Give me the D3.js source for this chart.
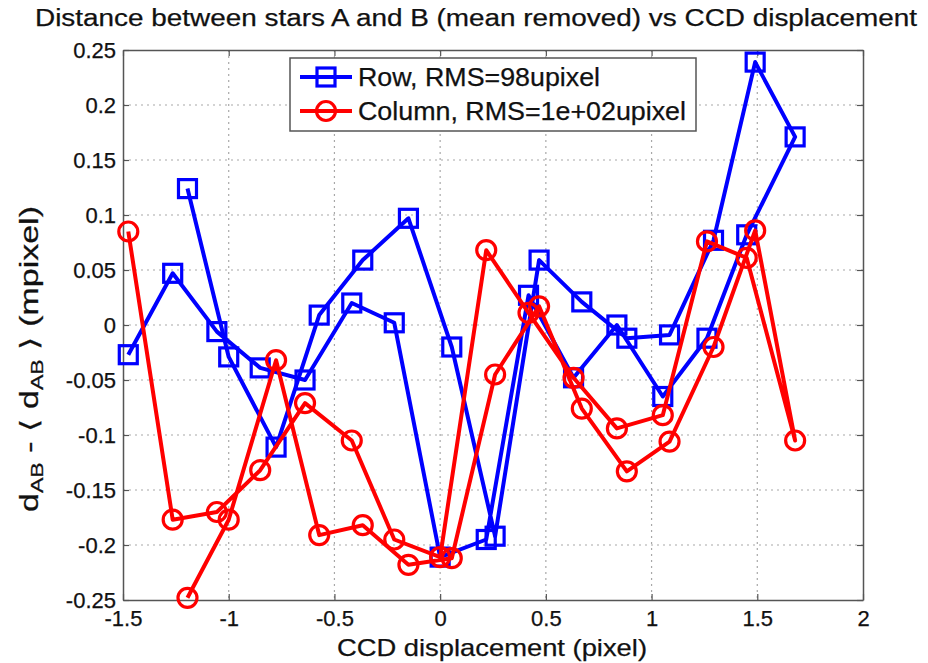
<!DOCTYPE html>
<html lang="en">
<head>
    <meta charset="UTF-8">
    <title>Distance between stars A and B vs CCD displacement</title>
    <script src="https://d3js.org/d3.v7.min.js"></script>
    <style>
        body { margin: 0; background: #fff; }
        text { font-family: "Liberation Sans", Arial, sans-serif; fill: #111; stroke: #111; stroke-width: 0.25px; }
    </style>
</head>
<body>
    <div id="chart"></div>

    <script>
        // CCD displacement (pixel), in the order the scan was drawn (out and back)
        const displacement = [-1.475, -1.265, -1.056, -0.851, -0.639, -0.418, -0.217, 0, 0.218, 0.418,
            0.631, 0.836, 1.053, 1.262, 1.45, 1.679, 1.49, 1.293, 1.085, 0.883,
            0.67, 0.468, 0.26, 0.055, -0.15, -0.366, -0.572, -0.776, -1.0, -1.195];

        // d_AB - <d_AB> (mpixel)
        const rowValues = [-0.027, 0.047, -0.006, -0.039, -0.05, 0.02, 0.002, -0.211, -0.195, 0.027,
            -0.048, 0.0, -0.065, -0.012, 0.082, 0.171, 0.239, 0.077, -0.009, -0.012,
            0.021, 0.059, -0.192, -0.02, 0.097, 0.059, 0.009, -0.111, -0.029, 0.124];

        const columnValues = [0.085, -0.177, -0.17, -0.132, -0.071, -0.105, -0.195, -0.211, 0.068, 0.011,
            -0.048, -0.094, -0.082, 0.076, 0.061, -0.105, 0.086, -0.02, -0.106, -0.133,
            -0.076, 0.017, -0.045, -0.212, -0.218, -0.182, -0.191, -0.032, -0.177, -0.248];

        const seriesNames = ["Row, RMS=98upixel", "Column, RMS=1e+02upixel"];
        const xTicks = [-1.5, -1, -0.5, 0, 0.5, 1, 1.5, 2];
        const yTicks = [0.25, 0.2, 0.15, 0.1, 0.05, 0, -0.05, -0.1, -0.15, -0.2, -0.25];

        const svgWidth = 928;
        const svgHeight = 663;
        const margin = { top: 50, right: 65, bottom: 63, left: 123 };
        const width = svgWidth - margin.left - margin.right;
        const height = svgHeight - margin.top - margin.bottom;

        const root = d3.select("#chart")
            .append("svg")
            .attr("width", svgWidth)
            .attr("height", svgHeight);

        const svg = root.append("g")
            .attr("transform", `translate(${margin.left},${margin.top})`);

        const x = d3.scaleLinear().domain([-1.5, 2]).range([0, width]);
        const y = d3.scaleLinear().domain([-0.25, 0.25]).range([height, 0]);
        const fmt = d => String(d);

        // dotted grid
        svg.append("g")
            .selectAll("line")
            .data(xTicks.slice(1, -1))
            .enter().append("line")
            .attr("x1", d => x(d)).attr("x2", d => x(d))
            .attr("y1", 0).attr("y2", height)
            .attr("stroke", "#a8a8a8")
            .attr("stroke-width", 1.2)
            .attr("stroke-dasharray", "2,4");

        svg.append("g")
            .selectAll("line")
            .data(yTicks.slice(1, -1))
            .enter().append("line")
            .attr("x1", 0).attr("x2", width)
            .attr("y1", d => y(d)).attr("y2", d => y(d))
            .attr("stroke", "#a8a8a8")
            .attr("stroke-width", 1.2)
            .attr("stroke-dasharray", "2,4");

        // axes with inward ticks on all four sides
        function styleAxis(g) {
            g.select(".domain").attr("stroke", "#555").attr("stroke-width", 1.5);
            g.selectAll(".tick line").attr("stroke", "#555").attr("stroke-width", 1.2);
            g.selectAll("text").style("font-size", "22px").attr("fill", "#111");
        }

        svg.append("g")
            .attr("transform", `translate(0,${height})`)
            .call(d3.axisBottom(x).tickValues(xTicks).tickFormat(fmt).tickSizeInner(-6).tickSizeOuter(0).tickPadding(10))
            .call(styleAxis)
            .call(g => g.selectAll("text").attr("dy", "0.72em"));

        svg.append("g")
            .call(d3.axisTop(x).tickValues(xTicks).tickFormat("").tickSizeInner(-6).tickSizeOuter(0))
            .call(styleAxis);

        svg.append("g")
            .call(d3.axisLeft(y).tickValues(yTicks).tickFormat(fmt).tickSizeInner(-6).tickSizeOuter(0).tickPadding(7))
            .call(styleAxis);

        svg.append("g")
            .attr("transform", `translate(${width},0)`)
            .call(d3.axisRight(y).tickValues(yTicks).tickFormat("").tickSizeInner(-6).tickSizeOuter(0))
            .call(styleAxis);

        // series
        const series = [
            { name: seriesNames[0], values: rowValues, color: "#0000ff", marker: "square", textLen: 242 },
            { name: seriesNames[1], values: columnValues, color: "#ff0000", marker: "circle", textLen: 328 }
        ];

        const line = d3.line()
            .x(d => x(d[0]))
            .y(d => y(d[1]));

        function drawMarker(g, type, color) {
            if (type === "square") {
                g.append("rect")
                    .attr("x", -9).attr("y", -9)
                    .attr("width", 18).attr("height", 18)
                    .attr("fill", "none")
                    .attr("stroke", color)
                    .attr("stroke-width", 3.2);
            } else {
                g.append("circle")
                    .attr("r", 9.5)
                    .attr("fill", "none")
                    .attr("stroke", color)
                    .attr("stroke-width", 3.2);
            }
        }

        series.forEach(s => {
            const pts = displacement.map((d, i) => [d, s.values[i]]);
            svg.append("path")
                .datum(pts)
                .attr("d", line)
                .attr("fill", "none")
                .attr("stroke", s.color)
                .attr("stroke-width", 4)
                .attr("stroke-linejoin", "round");

            svg.append("g")
                .selectAll("g")
                .data(pts)
                .enter().append("g")
                .attr("transform", d => `translate(${x(d[0])},${y(d[1])})`)
                .each(function () { drawMarker(d3.select(this), s.marker, s.color); });
        });

        // legend
        const legend = root.append("g").attr("transform", "translate(290,58)");
        legend.append("rect")
            .attr("width", 406).attr("height", 73)
            .attr("fill", "#fff")
            .attr("stroke", "#555")
            .attr("stroke-width", 1.5);

        series.forEach((s, i) => {
            const row = legend.append("g").attr("transform", `translate(0,${19 + i * 34})`);
            row.append("line")
                .attr("x1", 10).attr("x2", 62)
                .attr("stroke", s.color)
                .attr("stroke-width", 4);
            const m = row.append("g").attr("transform", "translate(36,0)");
            drawMarker(m, s.marker, s.color);
            row.append("text")
                .attr("x", 68)
                .attr("dy", "0.36em")
                .attr("textLength", s.textLen)
                .attr("lengthAdjust", "spacingAndGlyphs")
                .style("font-size", "25px")
                .text(s.name);
        });

        // title
        root.append("text")
            .attr("x", 476)
            .attr("y", 26)
            .attr("text-anchor", "middle")
            .attr("textLength", 882)
            .attr("lengthAdjust", "spacingAndGlyphs")
            .style("font-size", "23px")
            .text("Distance between stars A and B (mean removed) vs CCD displacement");

        // x label
        root.append("text")
            .attr("x", 492)
            .attr("y", 656)
            .attr("text-anchor", "middle")
            .attr("textLength", 310)
            .attr("lengthAdjust", "spacingAndGlyphs")
            .style("font-size", "24px")
            .text("CCD displacement (pixel)");

        // y label
        const yl = root.append("text")
            .attr("transform", "translate(38,359) rotate(-90)")
            .attr("text-anchor", "middle")
            .attr("textLength", 306)
            .attr("lengthAdjust", "spacingAndGlyphs")
            .style("font-size", "25px");
        yl.append("tspan").text("d");
        yl.append("tspan").attr("baseline-shift", "-30%").style("font-size", "17px").text("AB");
        yl.append("tspan").text(" - \u27E8 d");
        yl.append("tspan").attr("baseline-shift", "-30%").style("font-size", "17px").text("AB");
        yl.append("tspan").text(" \u27E9 (mpixel)");
    </script>
</body>
</html>
